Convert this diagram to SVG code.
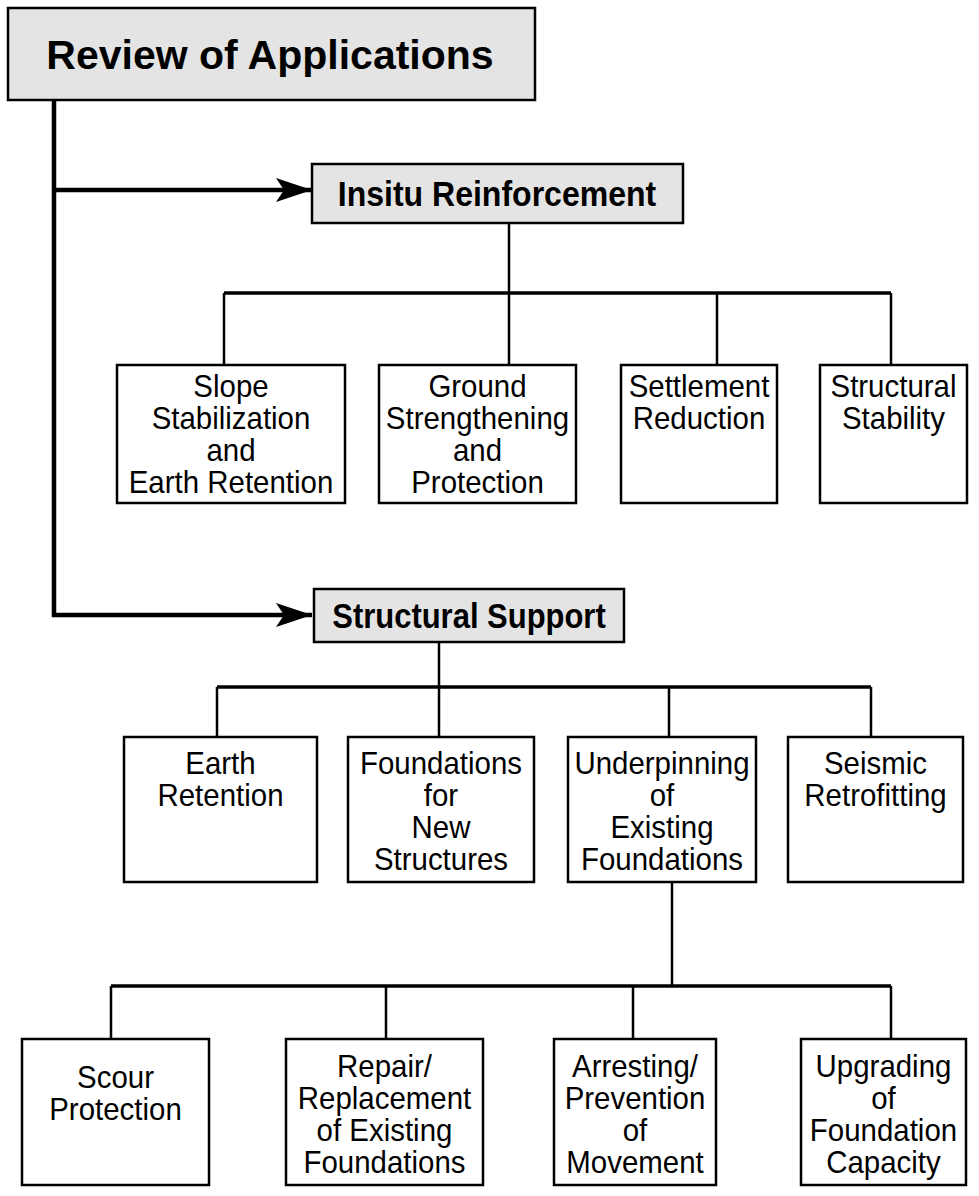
<svg xmlns="http://www.w3.org/2000/svg" width="979" height="1196" viewBox="0 0 979 1196">
<defs>
<style>
.hdr{fill:#e4e4e4;stroke:#000;stroke-width:2.5}
.box{fill:#fff;stroke:#000;stroke-width:2.5}
.t{font-family:"Liberation Sans",Arial,sans-serif;font-size:31px;text-anchor:middle;fill:#000}
.h{font-family:"Liberation Sans",Arial,sans-serif;font-weight:bold;text-anchor:middle;fill:#000}
.thick{fill:none;stroke:#000;stroke-width:4.5}
.bar{fill:none;stroke:#000;stroke-width:3.5}
.drop{fill:none;stroke:#000;stroke-width:2.5}
</style>
<marker id="arr" markerUnits="userSpaceOnUse" markerWidth="40" markerHeight="30" refX="36" refY="12" orient="auto">
<path d="M0,0 L36,12 L0,24 L8,12 Z" fill="#000"/>
</marker>
</defs>
<rect width="979" height="1196" fill="#fff"/>

<g id="connectors">
<path class="thick" d="M54,100 V615 H312" marker-end="url(#arr)"/>
<path class="thick" d="M54,190 H312" marker-end="url(#arr)"/>
<path class="drop" d="M509,223 V293"/>
<path class="bar" d="M224,293 H891"/>
<path class="drop" d="M224,293 V365 M509,293 V365 M717,293 V365 M891,293 V365"/>
<path class="drop" d="M439,642 V687"/>
<path class="bar" d="M217,687 H871"/>
<path class="drop" d="M217,687 V737 M439,687 V737 M669,687 V737 M871,687 V737"/>
<path class="drop" d="M672,882 V986"/>
<path class="bar" d="M111,986 H891"/>
<path class="drop" d="M111,986 V1039 M386,986 V1039 M633,986 V1039 M891,986 V1039"/>
</g>

<g id="review">
<rect class="hdr" x="8" y="8" width="527" height="92"/>
<text class="h" x="270" y="69" font-size="41">Review of Applications</text>
</g>

<g id="insitu">
<rect class="hdr" x="312" y="164" width="371" height="59"/>
<text class="h" x="497" y="206" font-size="36" transform="matrix(0.89 0 0 1 54.67 0)">Insitu Reinforcement</text>
</g>

<g id="slope">
<rect class="box" x="117" y="365" width="228" height="138"/>
<text class="t" transform="matrix(0.95 0 0 1 11.55 0)"><tspan x="231" y="397">Slope</tspan><tspan x="231" y="429">Stabilization</tspan><tspan x="231" y="461">and</tspan><tspan x="231" y="493">Earth Retention</tspan></text>
</g>
<g id="ground">
<rect class="box" x="379" y="365" width="197" height="138"/>
<text class="t" transform="matrix(0.95 0 0 1 23.875 0)"><tspan x="477.5" y="397">Ground</tspan><tspan x="477.5" y="429">Strengthening</tspan><tspan x="477.5" y="461">and</tspan><tspan x="477.5" y="493">Protection</tspan></text>
</g>
<g id="settlement">
<rect class="box" x="621" y="365" width="156" height="138"/>
<text class="t" transform="matrix(0.95 0 0 1 34.95 0)"><tspan x="699" y="397">Settlement</tspan><tspan x="699" y="429">Reduction</tspan></text>
</g>
<g id="stability">
<rect class="box" x="820" y="365" width="147" height="138"/>
<text class="t" transform="matrix(0.95 0 0 1 44.675 0)"><tspan x="893.5" y="397">Structural</tspan><tspan x="893.5" y="429">Stability</tspan></text>
</g>

<g id="support">
<rect class="hdr" x="314" y="589" width="310" height="53"/>
<text class="h" x="469" y="628" font-size="35" transform="matrix(0.885 0 0 1 53.94 0)">Structural Support</text>
</g>

<g id="earth">
<rect class="box" x="124" y="737" width="193" height="145"/>
<text class="t" transform="matrix(0.95 0 0 1 11.025 0)"><tspan x="220.5" y="774">Earth</tspan><tspan x="220.5" y="806">Retention</tspan></text>
</g>
<g id="newfound">
<rect class="box" x="348" y="737" width="186" height="145"/>
<text class="t" transform="matrix(0.95 0 0 1 22.05 0)"><tspan x="441" y="774">Foundations</tspan><tspan x="441" y="806">for</tspan><tspan x="441" y="838">New</tspan><tspan x="441" y="870">Structures</tspan></text>
</g>
<g id="underpinning">
<rect class="box" x="568" y="737" width="188" height="145"/>
<text class="t" transform="matrix(0.95 0 0 1 33.1 0)"><tspan x="662" y="774">Underpinning</tspan><tspan x="662" y="806">of</tspan><tspan x="662" y="838">Existing</tspan><tspan x="662" y="870">Foundations</tspan></text>
</g>
<g id="seismic">
<rect class="box" x="788" y="737" width="175" height="145"/>
<text class="t" transform="matrix(0.95 0 0 1 43.775 0)"><tspan x="875.5" y="774">Seismic</tspan><tspan x="875.5" y="806">Retrofitting</tspan></text>
</g>

<g id="scour">
<rect class="box" x="22" y="1039" width="187" height="146"/>
<text class="t" transform="matrix(0.95 0 0 1 5.775 0)"><tspan x="115.5" y="1088">Scour</tspan><tspan x="115.5" y="1120">Protection</tspan></text>
</g>
<g id="repair">
<rect class="box" x="286" y="1039" width="197" height="146"/>
<text class="t" transform="matrix(0.95 0 0 1 19.225 0)"><tspan x="384.5" y="1077">Repair/</tspan><tspan x="384.5" y="1109">Replacement</tspan><tspan x="384.5" y="1141">of Existing</tspan><tspan x="384.5" y="1173">Foundations</tspan></text>
</g>
<g id="arresting">
<rect class="box" x="554" y="1039" width="162" height="146"/>
<text class="t" transform="matrix(0.95 0 0 1 31.75 0)"><tspan x="635" y="1077">Arresting/</tspan><tspan x="635" y="1109">Prevention</tspan><tspan x="635" y="1141">of</tspan><tspan x="635" y="1173">Movement</tspan></text>
</g>
<g id="upgrading">
<rect class="box" x="801" y="1039" width="165" height="146"/>
<text class="t" transform="matrix(0.95 0 0 1 44.175 0)"><tspan x="883.5" y="1077">Upgrading</tspan><tspan x="883.5" y="1109">of</tspan><tspan x="883.5" y="1141">Foundation</tspan><tspan x="883.5" y="1173">Capacity</tspan></text>
</g>
</svg>
